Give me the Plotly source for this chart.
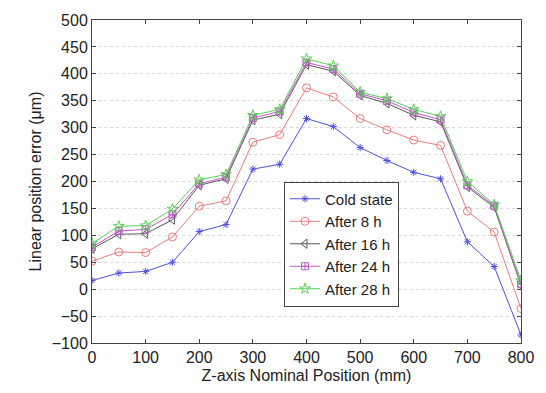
import plotly.graph_objects as go

# Z-axis nominal positions (mm)
positions = [0, 50, 100, 150, 200, 250, 300, 350, 400, 450, 500, 550, 600, 650, 700, 750, 800]

# Linear position error (um) measured at each warm-up stage
cold_state = [16, 30, 33, 50, 107, 120, 223, 232, 317, 302, 263, 239, 217, 205, 88, 42, -85]
after_8h = [52, 69, 68, 97, 154, 164, 273, 287, 374, 357, 317, 296, 277, 267, 145, 106, -36]
after_16h = [75, 102, 103, 129, 193, 205, 314, 325, 417, 405, 360, 345, 323, 311, 190, 152, 7]
after_24h = [78, 108, 111, 139, 196, 208, 318, 330, 421, 409, 363, 350, 328, 315, 193, 155, 9]
after_28h = [85, 117, 118, 149, 203, 213, 323, 334, 428, 415, 366, 354, 334, 321, 200, 157, 16]

series_names = ["Cold state", "After 8 h", "After 16 h", "After 24 h", "After 28 h"]
series_values = [cold_state, after_8h, after_16h, after_24h, after_28h]

styles = [
    dict(color="#5050dc", symbol="asterisk-open", size=6),
    dict(color="#e87c7c", symbol="circle-open", size=8),
    dict(color="#585858", symbol="triangle-left-open", size=8),
    dict(color="#c455cc", symbol="square-cross-open", size=7),
    dict(color="#58d058", symbol="star-open", size=8),
]

x_ticks = list(range(0, 801, 100))
y_ticks = list(range(-100, 501, 50))

fig = go.Figure()
for name, values, st in zip(series_names, series_values, styles):
    fig.add_trace(go.Scatter(
        x=positions, y=values, name=name, mode="lines+markers",
        line=dict(color=st["color"], width=1),
        marker=dict(symbol=st["symbol"], size=st["size"], color=st["color"],
                    line=dict(color=st["color"], width=1)),
    ))

axis_common = dict(
    showline=True, linecolor="#444444", linewidth=1, mirror="ticks",
    ticks="inside", ticklen=4, tickcolor="#444444", zeroline=False,
    tickfont=dict(family="Liberation Sans, Arial, sans-serif", size=16, color="#222222"),
)

fig.update_layout(
    width=546, height=393,
    margin=dict(l=92, r=15, t=17, b=50),
    paper_bgcolor="white", plot_bgcolor="white",
    font=dict(family="Liberation Sans, Arial, sans-serif", color="#222222"),
    xaxis=dict(range=[0, 800], tickvals=x_ticks, showgrid=False,
               title=dict(text="Z-axis Nominal Position (mm)", font=dict(size=16), standoff=4),
               **axis_common),
    yaxis=dict(range=[-100, 500], tickvals=y_ticks, showgrid=True,
               gridcolor="#d8d8d8", griddash="dot", gridwidth=1,
               title=dict(text="Linear position error (μm)", font=dict(size=16), standoff=6),
               **axis_common),
    legend=dict(x=0.4475, y=0.50, xanchor="left", yanchor="top",
                bgcolor="white", bordercolor="#444444", borderwidth=1,
                font=dict(size=15), tracegroupgap=0, itemwidth=30),
    showlegend=True,
)

fig.write_html("out.html")
